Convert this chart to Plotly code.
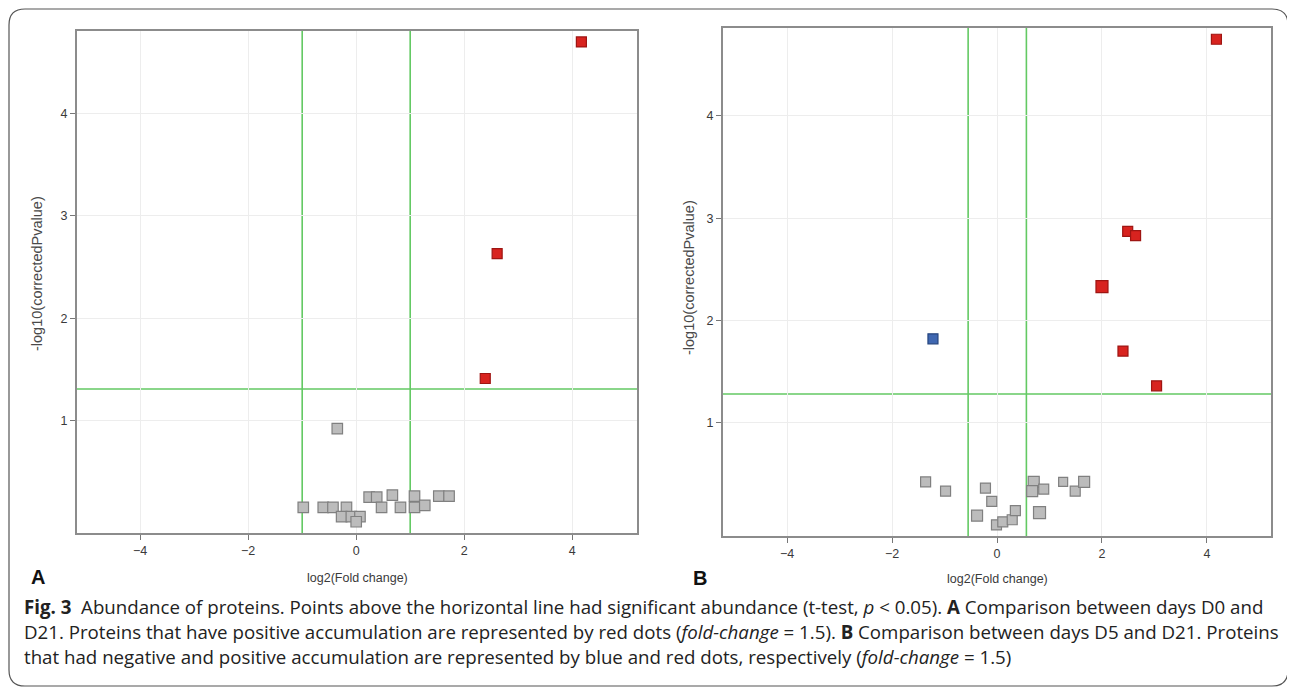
import plotly.graph_objects as go

# ---------------- data ----------------
# Panel A (D0 vs D21)
a_grey_x = [-0.35, -0.98, -0.61, -0.43, -0.18, -0.27, -0.09, 0.07, 0.0, 0.24, 0.38, 0.47, 0.67, 0.82, 1.08, 1.08, 1.27, 1.53, 1.72]
a_grey_y = [0.92, 0.15, 0.15, 0.15, 0.15, 0.06, 0.06, 0.06, 0.01, 0.25, 0.25, 0.15, 0.27, 0.15, 0.26, 0.15, 0.17, 0.26, 0.26]
a_red_x = [4.17, 2.61, 2.39]
a_red_y = [4.70, 2.63, 1.41]
a_vlines = [-1.0, 1.0]
a_hline = 1.307

# Panel B (D5 vs D21)
b_grey_x = [-1.36, -0.98, -0.22, -0.10, -0.38, -0.01, 0.11, 0.29, 0.35, 0.70, 0.67, 0.89, 0.81, 1.26, 1.49, 1.66]
b_grey_y = [0.42, 0.33, 0.36, 0.23, 0.09, 0.0, 0.03, 0.05, 0.14, 0.42, 0.33, 0.35, 0.12, 0.42, 0.33, 0.42]
b_grey_size = [10, 10, 10, 10, 11, 10, 10, 10, 10, 11, 11, 10, 12, 9, 10, 11]
b_red_x = [4.18, 2.49, 2.64, 2.0, 2.40, 3.04]
b_red_y = [4.75, 2.87, 2.83, 2.33, 1.70, 1.36]
b_red_size = [10, 10, 10, 12, 10, 10]
b_blue_x = [-1.22]
b_blue_y = [1.82]
b_vlines = [-0.55, 0.56]
b_hline = 1.28

x_ticks = [-4, -2, 0, 2, 4]
y_ticks = [1, 2, 3, 4]

# ---------------- styles ----------------
GREY_FILL, GREY_EDGE = "#bcbcbc", "#808080"
RED_FILL, RED_EDGE = "#d8231f", "#9e1512"
BLUE_FILL, BLUE_EDGE = "#3f67b1", "#25447e"
GREEN = "#63c963"
FONT = "Liberation Sans, Arial, sans-serif"
OFF = 8                      # page body margin
W, H = 1295 - OFF, 693 - OFF

fig = go.Figure()

def add_pts(x, y, fill, edge, size, xa, ya):
    fig.add_trace(go.Scatter(
        x=x, y=y, mode="markers", xaxis=xa, yaxis=ya, showlegend=False,
        marker=dict(symbol="square", size=size, color=fill, opacity=1,
                    line=dict(color=edge, width=1.2)),
        hoverinfo="x+y"))

add_pts(a_grey_x, a_grey_y, GREY_FILL, GREY_EDGE, 10.5, "x", "y")
add_pts(a_red_x, a_red_y, RED_FILL, RED_EDGE, 10, "x", "y")
add_pts(b_grey_x, b_grey_y, GREY_FILL, GREY_EDGE, b_grey_size, "x2", "y2")
add_pts(b_red_x, b_red_y, RED_FILL, RED_EDGE, b_red_size, "x2", "y2")
add_pts(b_blue_x, b_blue_y, BLUE_FILL, BLUE_EDGE, 10, "x2", "y2")

# threshold lines
shapes = []
for xv in a_vlines:
    shapes.append(dict(type="line", xref="x", yref="y domain", x0=xv, x1=xv, y0=0, y1=1,
                       line=dict(color=GREEN, width=1.6), layer="below"))
shapes.append(dict(type="line", xref="x domain", yref="y", x0=0, x1=1, y0=a_hline, y1=a_hline,
                   line=dict(color=GREEN, width=1.6), layer="below"))
for xv in b_vlines:
    shapes.append(dict(type="line", xref="x2", yref="y2 domain", x0=xv, x1=xv, y0=0, y1=1,
                       line=dict(color=GREEN, width=1.6), layer="below"))
shapes.append(dict(type="line", xref="x2 domain", yref="y2", x0=0, x1=1, y0=b_hline, y1=b_hline,
                   line=dict(color=GREEN, width=1.6), layer="below"))

# page pixel -> paper fraction
def px(x): return (x - OFF) / W
def py(y): return 1 - (y - OFF) / H

L, T, R, B, r = 9, 9, 1288, 686, 16
path = (f"M {px(L)},{py(T + r)} Q {px(L)},{py(T)} {px(L + r)},{py(T)} "
        f"L {px(R - r)},{py(T)} Q {px(R)},{py(T)} {px(R)},{py(T + r)} "
        f"L {px(R)},{py(B - r)} Q {px(R)},{py(B)} {px(R - r)},{py(B)} "
        f"L {px(L + r)},{py(B)} Q {px(L)},{py(B)} {px(L)},{py(B - r)} Z")
shapes.append(dict(type="path", xref="paper", yref="paper", path=path,
                   line=dict(color="#555555", width=1.2), fillcolor="rgba(0,0,0,0)"))

axis_common = dict(
    showline=True, mirror=True, linecolor="#8c8c8c", linewidth=2,
    ticks="outside", ticklen=5, tickcolor="#777777", tickwidth=1,
    showgrid=True, gridcolor="#ededed", gridwidth=1, zeroline=False,
    tickfont=dict(family=FONT, size=12.5, color="#3a3a3a"),
)

fig.update_layout(
    width=W, height=H, margin=dict(l=0, r=0, t=0, b=0),
    paper_bgcolor="white", plot_bgcolor="white",
    xaxis=dict(domain=[px(77), px(637)], range=[-5.17, 5.2], tickvals=x_ticks,
               anchor="y", **axis_common),
    yaxis=dict(domain=[py(533), py(30.7)], range=[-0.1, 4.81], tickvals=y_ticks,
               anchor="x", **axis_common),
    xaxis2=dict(domain=[px(723), px(1271)], range=[-5.22, 5.22], tickvals=x_ticks,
                anchor="y2", **axis_common),
    yaxis2=dict(domain=[py(536), py(28)], range=[-0.109, 4.86], tickvals=y_ticks,
                anchor="x2", **axis_common),
    shapes=shapes,
)

ann = []
def text(x, y, s, size, color="#222", xanchor="center", angle=0, family=FONT):
    ann.append(dict(x=px(x), y=py(y), xref="paper", yref="paper", text=s, showarrow=False,
                    xanchor=xanchor, yanchor="middle", textangle=angle,
                    font=dict(family=family, size=size, color=color)))

# axis titles
text(357, 578, "log2(Fold change)", 12.5, "#3a3a3a")
text(997, 579, "log2(Fold change)", 12.5, "#3a3a3a")
text(37, 274, "-log10(correctedPvalue)", 14.5, "#4a4a4a", angle=-90)
text(689, 278, "-log10(correctedPvalue)", 14.5, "#4a4a4a", angle=-90)
# panel labels
text(38, 577, "<b>A</b>", 20, "#111111")
text(700, 578, "<b>B</b>", 20, "#111111")

# caption
CAP = "Open Sans, sans-serif"
cap1 = ("<b>Fig. 3</b>  Abundance of proteins. Points above the horizontal line had significant "
        "abundance (t-test, <i>p</i> &lt; 0.05). <b>A</b> Comparison between days D0 and")
cap2 = ("D21. Proteins that have positive accumulation are represented by red dots "
        "(<i>fold-change</i> = 1.5). <b>B</b> Comparison between days D5 and D21. Proteins")
cap3 = ("that had negative and positive accumulation are represented by blue and red dots, "
        "respectively (<i>fold-change</i> = 1.5)")
text(22, 606, cap1, 18.7, "#222222", xanchor="left", family=CAP)
text(22, 631, cap2, 18.7, "#222222", xanchor="left", family=CAP)
text(22, 656, cap3, 18.7, "#222222", xanchor="left", family=CAP)

fig.update_layout(annotations=ann)
fig.write_html("out.html")
